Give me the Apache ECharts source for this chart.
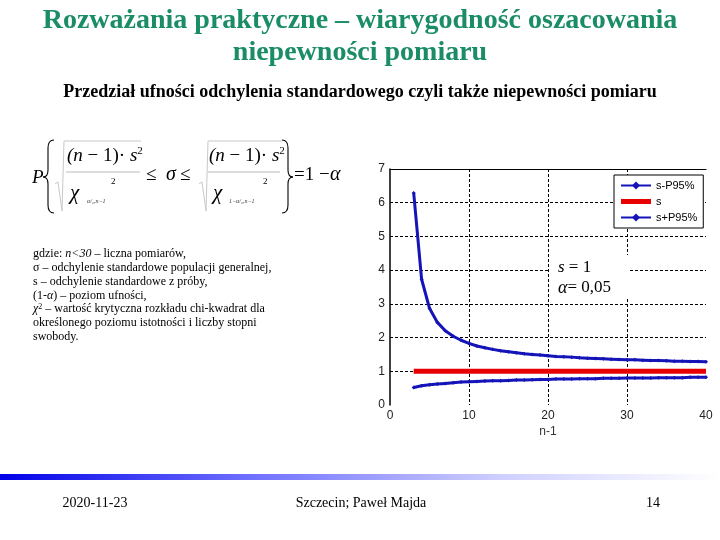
<!DOCTYPE html>
<html>
<head>
<meta charset="utf-8">
<script src="https://cdn.jsdelivr.net/npm/echarts@6/dist/echarts.min.js"></script>
<style>
html,body{margin:0;padding:0;background:#fff;}
#c{width:720px;height:540px;}
</style>
</head>
<body>
<div id="c"></div>
<script>
// ---- data ----
var xValues = [3,4,5,6,7,8,9,10,11,12,13,14,15,16,17,18,19,20,21,22,23,24,25,26,27,28,29,30,31,32,33,34,35,36,37,38,39,40];
var upperValues = [6.29,3.73,2.87,2.45,2.20,2.04,1.92,1.83,1.75,1.70,1.65,1.61,1.58,1.55,1.52,1.50,1.48,1.46,1.44,1.43,1.42,1.40,1.39,1.38,1.37,1.36,1.35,1.34,1.34,1.33,1.32,1.32,1.31,1.30,1.30,1.29,1.29,1.28];
var lowerValues = [0.52,0.57,0.60,0.62,0.64,0.66,0.68,0.69,0.70,0.71,0.72,0.72,0.73,0.74,0.74,0.75,0.76,0.76,0.77,0.77,0.77,0.78,0.78,0.78,0.79,0.79,0.79,0.80,0.80,0.80,0.80,0.81,0.81,0.81,0.81,0.82,0.82,0.82];
var sX = [3,40];
var sY = [1,1];
var seriesNames = ['s-P95%','s','s+P95%'];
var xTicks = [0,10,20,30,40];
var yTicks = [0,1,2,3,4,5,6,7];

function pairs(xs, ys){ var out=[]; for(var i=0;i<xs.length;i++){ out.push([xs[i], ys[i]]); } return out; }

var BLUE = '#1414b8';
var SERIF = '"Liberation Serif","Times New Roman",serif';
var SANS = '"Liberation Sans",Arial,sans-serif';

function txt(x, y, text, size, opts){
  opts = opts || {};
  return {type:'text', x:x, y:y, z:10, style:{
    text:text, fontSize:size, fontFamily:opts.family||SERIF,
    fontStyle:opts.italic?'italic':'normal', fontWeight:opts.bold?'bold':'normal',
    fill:opts.color||'#000', textAlign:opts.align||'left', textVerticalAlign:'middle',
    rich: opts.rich
  }};
}
function seg(x1,y1,x2,y2,cx,cy){
  return {type:'bezierCurve', z:10, shape:{x1:x1,y1:y1,x2:x2,y2:y2,cpx1:cx,cpy1:cy}, style:{stroke:'#000', fill:null, lineWidth:1.1}};
}
function ln(x1,y1,x2,y2,color,w){
  return {type:'line', z:10, shape:{x1:x1,y1:y1,x2:x2,y2:y2}, style:{stroke:color||'#000', lineWidth:w||1.1}};
}
function brace(xe, xm, xt, top, mid, bot){
  return [
    seg(xe, top, xm, top+8, xm, top),
    ln(xm, top+8, xm, mid-7),
    seg(xm, mid-7, xt, mid, xm, mid),
    seg(xt, mid, xm, mid+7, xm, mid),
    ln(xm, mid+7, xm, bot-8),
    seg(xm, bot-8, xe, bot, xm, bot)
  ];
}

var richFrac = {i:{fontStyle:'italic',fontSize:19,fontFamily:SERIF},n:{fontSize:19,fontFamily:SERIF},s:{fontSize:11,fontFamily:SERIF,verticalAlign:'top',padding:[0,0,10,0]}};
var richI12 = {i:{fontStyle:'italic',fontSize:12,fontFamily:SERIF}};

var TY = 254, TD = 13.8;
var graphics = [
  // title
  txt(360, 21, 'Rozważania praktyczne – wiarygodność oszacowania', 28, {bold:true, color:'#1a8c66', align:'center'}),
  txt(360, 53, 'niepewności pomiaru', 28, {bold:true, color:'#1a8c66', align:'center'}),
  txt(360, 92, 'Przedział ufności odchylenia standardowego czyli także niepewności pomiaru', 18, {bold:true, align:'center'}),
  // formula
  txt(32, 178, 'P', 19, {italic:true}),
  {type:'polyline', z:10, shape:{points:[[55,184],[58,182],[62,211],[64,141],[141,141]]}, style:{stroke:'#c8c8c8', fill:null, lineWidth:1}},
  {type:'polyline', z:10, shape:{points:[[199,184],[202,182],[206,211],[208,141],[282,141]]}, style:{stroke:'#c8c8c8', fill:null, lineWidth:1}},
  ln(66,172,140,172,'#bbbbbb',1),
  ln(208,172,280,172,'#bbbbbb',1),
  txt(67, 156, '{i|(n}{n| − 1)· }{i|s}{s|2}', 19, {rich:richFrac}),
  txt(209, 156, '{i|(n}{n| − 1)· }{i|s}{s|2}', 19, {rich:richFrac}),
  txt(70, 193, 'χ', 21, {italic:true}),
  txt(111, 182, '2', 9),
  txt(87, 201, 'α/₂,n−1', 6, {italic:true, color:'#333'}),
  txt(213, 193, 'χ', 21, {italic:true}),
  txt(263, 182, '2', 9),
  txt(229, 201, '1−α/₂,n−1', 6, {italic:true, color:'#333'}),
  txt(146, 175, '≤ ', 19),
  txt(166, 175, 'σ', 20, {italic:true}),
  txt(180, 175, '≤', 19),
  txt(294, 175, '=1 − ', 19),
  txt(330, 175, 'α', 20, {italic:true}),
  // explanation text
  txt(33, TY, 'gdzie: {i|n<30} – liczna pomiarów,', 12, {rich:richI12}),
  txt(33, TY+TD, 'σ – odchylenie standardowe populacji generalnej,', 12),
  txt(33, TY+2*TD, 's – odchylenie standardowe z próby,', 12),
  txt(33, TY+3*TD, '(1-{i|α}) – poziom ufności,', 12, {rich:richI12}),
  txt(33, TY+4*TD, '{i|χ}{s|2} – wartość krytyczna rozkładu chi-kwadrat dla', 12, {rich:{i:{fontStyle:'italic',fontSize:12,fontFamily:SERIF},s:{fontSize:8,fontFamily:SERIF,verticalAlign:'top'}}}),
  txt(33, TY+5*TD, 'określonego poziomu istotności i liczby stopni', 12),
  txt(33, TY+6*TD, 'swobody.', 12),
  // annotation box on chart
  {type:'rect', z:5, shape:{x:550, y:255, width:80, height:44}, style:{fill:'#fff'}},
  txt(558, 268, '{i|s}{n| = 1}', 17, {rich:{i:{fontStyle:'italic',fontSize:17,fontFamily:SERIF},n:{fontSize:17,fontFamily:SERIF}}}),
  txt(558, 288, '{i|α}{n|= 0,05}', 17, {rich:{i:{fontStyle:'italic',fontSize:18,fontFamily:SERIF},n:{fontSize:17,fontFamily:SERIF}}}),
  // footer bar
  {type:'rect', z:1, shape:{x:0, y:474, width:720, height:6}, style:{fill:{type:'linear', x:0, y:0, x2:1, y2:0, colorStops:[{offset:0,color:'#0000e8'},{offset:0.35,color:'#7070ff'},{offset:0.7,color:'#d0d0ff'},{offset:1,color:'#ffffff'}]}}},
  txt(95, 503, '2020-11-23', 14, {align:'center'}),
  txt(361, 503, 'Szczecin; Paweł Majda', 14, {align:'center'}),
  txt(653, 503, '14', 14, {align:'center'})
].concat(brace(54, 48, 43, 140, 177, 213), brace(282, 288, 293, 140, 177, 213));

var chart = echarts.init(document.getElementById('c'), null, {renderer:'canvas'});
chart.setOption({
  animation:false,
  backgroundColor:'#fff',
  grid:{left:390, right:14, top:169, bottom:135},
  xAxis:[{
    type:'value', min:xTicks[0], max:xTicks[xTicks.length-1], interval:xTicks[1]-xTicks[0], position:'bottom',
    axisLine:{show:false}, axisTick:{show:false},
    axisLabel:{color:'#222', fontSize:12, fontFamily:SANS, margin:5},
    splitLine:{show:true, showMinLine:false, showMaxLine:false, lineStyle:{color:'#000', type:[3,2], width:1}},
    name:'n-1', nameLocation:'middle', nameGap:21, nameTextStyle:{color:'#333', fontSize:12, fontFamily:SANS}
  },{
    type:'value', min:xTicks[0], max:xTicks[xTicks.length-1], position:'top',
    axisLine:{show:true, lineStyle:{color:'#000', width:1.2}}, axisTick:{show:false}, axisLabel:{show:false}, splitLine:{show:false}
  }],
  yAxis:{
    type:'value', min:yTicks[0], max:yTicks[yTicks.length-1], interval:1,
    axisLine:{show:true, lineStyle:{color:'#000', width:1.5}}, axisTick:{show:false},
    axisLabel:{color:'#222', fontSize:12, fontFamily:SANS, margin:5},
    splitLine:{show:true, showMinLine:false, showMaxLine:false, lineStyle:{color:'#000', type:[3,2], width:1}}
  },
  legend:{
    data:[
      {name:seriesNames[0]},
      {name:seriesNames[1], icon:'path://M0,0 L30,0 L30,5 L0,5 Z'},
      {name:seriesNames[2]}
    ],
    orient:'vertical', left:614, top:175,
    backgroundColor:'#fff', borderColor:'#000', borderWidth:1, borderRadius:0,
    padding:[5,6], itemGap:5, itemWidth:30, itemHeight:10,
    textStyle:{color:'#000', fontSize:11, fontFamily:SANS}, z:20
  },
  series:[
    {name:seriesNames[0], type:'line', xAxisIndex:0, data:pairs(xValues, upperValues), symbol:'diamond', symbolSize:4, showSymbol:true,
     lineStyle:{color:BLUE, width:3}, itemStyle:{color:BLUE}, z:3},
    {name:seriesNames[1], type:'line', xAxisIndex:0, data:pairs(sX, sY), symbol:'none', showSymbol:false,
     lineStyle:{color:'#e60000', width:5}, itemStyle:{color:'#e60000'}, z:2},
    {name:seriesNames[2], type:'line', xAxisIndex:0, data:pairs(xValues, lowerValues), symbol:'diamond', symbolSize:4, showSymbol:true,
     lineStyle:{color:BLUE, width:3}, itemStyle:{color:BLUE}, z:3}
  ],
  graphic:graphics
});
</script>
</body>
</html>
